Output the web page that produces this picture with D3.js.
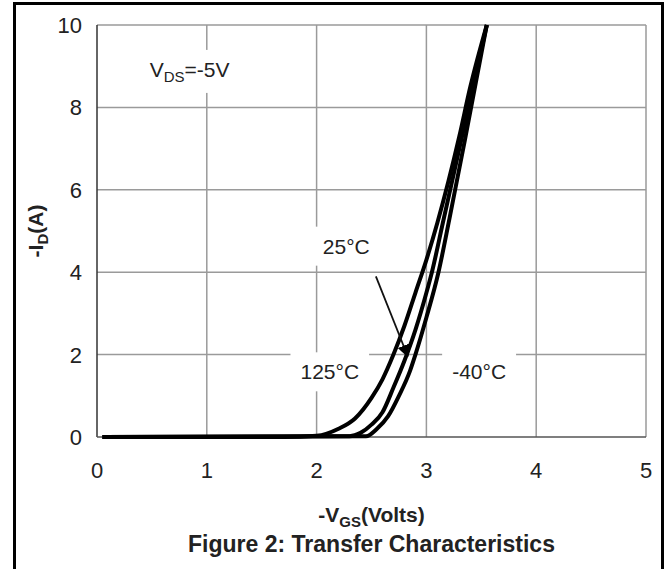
<!DOCTYPE html>
<html>
<head>
<meta charset="utf-8">
<script src="https://cdn.jsdelivr.net/npm/d3@7/dist/d3.min.js"></script>
<style>
  body { margin: 0; background: #fff; }
  svg text { font-family: "Liberation Sans", Arial, sans-serif; fill: #222; }
</style>
</head>
<body>
<div id="chart"></div>
<script>
// -VGS (V) / -ID (A) readings per temperature
const vgs125 = [0.05, 1.7, 2.0, 2.2, 2.35, 2.5, 2.6, 2.7, 2.8, 2.9, 3.0, 3.1, 3.2, 3.3, 3.4, 3.55];
const id125  = [0, 0, 0.03, 0.2, 0.45, 0.95, 1.4, 2.0, 2.7, 3.5, 4.3, 5.2, 6.2, 7.3, 8.5, 10];
const vgs25  = [0.05, 2.3, 2.4, 2.5, 2.6, 2.7, 2.8, 2.9, 3.0, 3.05, 3.15, 3.3, 3.45, 3.55];
const id25   = [0, 0.02, 0.1, 0.3, 0.6, 1.2, 1.85, 2.6, 3.5, 4.0, 5.2, 7.0, 8.8, 10];
const vgsM40 = [0.05, 2.45, 2.55, 2.65, 2.75, 2.85, 2.9, 3.0, 3.11, 3.21, 3.35, 3.45, 3.55];
const idM40  = [0, 0.02, 0.2, 0.5, 1.0, 1.6, 2.0, 2.9, 4.0, 5.3, 7.2, 8.6, 10];

const xTicks = [0, 1, 2, 3, 4, 5];
const yTicks = [0, 2, 4, 6, 8, 10];

// curve labels: text, x (V), y (A)
const curveLabels = [
    {text: "25°C", x: 2.27, y: 4.45},
    {text: "125°C", x: 2.12, y: 1.4},
    {text: "-40°C", x: 3.48, y: 1.4}
];

const W = 670, H = 569;
const margin = {top: 25, right: 24, bottom: 132, left: 97};
const w = W - margin.left - margin.right;
const h = H - margin.top - margin.bottom;

const svg = d3.select("#chart").append("svg")
    .attr("width", W)
    .attr("height", H);

// outer frame
svg.append("rect")
    .attr("x", 14.5).attr("y", 3.5)
    .attr("width", 648).attr("height", 580)
    .attr("fill", "none")
    .attr("stroke", "#000")
    .attr("stroke-width", 3);

const g = svg.append("g")
    .attr("transform", `translate(${margin.left},${margin.top})`);

const x = d3.scaleLinear().domain([0, 5]).range([0, w]);
const y = d3.scaleLinear().domain([0, 10]).range([h, 0]);

// grid
g.append("g").selectAll("line")
    .data(xTicks.slice(1))
    .enter().append("line")
    .attr("x1", d => x(d)).attr("x2", d => x(d))
    .attr("y1", 0).attr("y2", h)
    .attr("stroke", "#9a9a9a").attr("stroke-width", 1.5);
g.append("g").selectAll("line")
    .data(yTicks.slice(1))
    .enter().append("line")
    .attr("x1", 0).attr("x2", w)
    .attr("y1", d => y(d)).attr("y2", d => y(d))
    .attr("stroke", "#9a9a9a").attr("stroke-width", 1.5);

// axes lines
g.append("line")
    .attr("x1", 0).attr("x2", 0).attr("y1", 0).attr("y2", h)
    .attr("stroke", "#333").attr("stroke-width", 1.5);
g.append("line")
    .attr("x1", 0).attr("x2", w).attr("y1", h).attr("y2", h)
    .attr("stroke", "#555").attr("stroke-width", 1.5);

// tick labels
g.append("g").selectAll("text")
    .data(xTicks)
    .enter().append("text")
    .attr("x", d => x(d))
    .attr("y", h + 41)
    .attr("text-anchor", "middle")
    .attr("font-size", 22)
    .text(d => d);
g.append("g").selectAll("text")
    .data(yTicks)
    .enter().append("text")
    .attr("x", -15)
    .attr("y", d => y(d))
    .attr("dy", "0.36em")
    .attr("text-anchor", "end")
    .attr("font-size", 22)
    .text(d => d);

// white boxes behind annotation text
const labelG = g.append("g");
curveLabels.forEach(l => {
    const t = labelG.append("text")
        .attr("x", x(l.x)).attr("y", y(l.y))
        .attr("text-anchor", "middle")
        .attr("font-size", 21)
        .text(l.text);
    const b = t.node().getBBox();
    labelG.insert("rect", "text")
        .attr("x", b.x - 10).attr("y", b.y - 8)
        .attr("width", b.width + 20).attr("height", b.height + 16)
        .attr("fill", "#fff");
});

// V_DS label
const vds = labelG.append("text")
    .attr("x", x(0.48)).attr("y", y(8.74))
    .attr("font-size", 21);
vds.append("tspan").text("V");
vds.append("tspan").attr("font-size", 15).attr("dy", 5).text("DS");
vds.append("tspan").attr("dy", -5).text("=-5V");
const vb = vds.node().getBBox();
labelG.insert("rect", "text")
    .attr("x", vb.x - 10).attr("y", vb.y - 8)
    .attr("width", vb.width + 20).attr("height", vb.height + 16)
    .attr("fill", "#fff");

// curves
const line = d3.line()
    .x(d => x(d[0]))
    .y(d => y(d[1]))
    .curve(d3.curveMonotoneX);

[[vgs125, id125], [vgs25, id25], [vgsM40, idM40]].forEach(([vx, vy]) => {
    g.append("path")
        .datum(d3.zip(vx, vy))
        .attr("d", line)
        .attr("fill", "none")
        .attr("stroke", "#000")
        .attr("stroke-width", 4)
        .attr("stroke-linejoin", "round");
});

// arrow from 25°C label to its curve
const arrowFrom = [2.54, 3.9], arrowTo = [2.83, 1.96];
svg.append("defs").append("marker")
    .attr("id", "head")
    .attr("viewBox", "0 0 10 10")
    .attr("refX", 9).attr("refY", 5)
    .attr("markerWidth", 7).attr("markerHeight", 7)
    .attr("markerUnits", "strokeWidth")
    .attr("orient", "auto")
    .append("path")
    .attr("d", "M0,0 L10,5 L0,10 Z")
    .attr("fill", "#000");
g.append("line")
    .attr("x1", x(arrowFrom[0])).attr("y1", y(arrowFrom[1]))
    .attr("x2", x(arrowTo[0])).attr("y2", y(arrowTo[1]))
    .attr("stroke", "#111").attr("stroke-width", 1.8)
    .attr("marker-end", "url(#head)");

// axis titles
const xt = svg.append("text")
    .attr("x", margin.left + w / 2).attr("y", 522)
    .attr("text-anchor", "middle")
    .attr("font-size", 21).attr("font-weight", "bold");
xt.append("tspan").text("-V");
xt.append("tspan").attr("font-size", 15).attr("dy", 5).text("GS");
xt.append("tspan").attr("dy", -5).text("(Volts)");

const yt = svg.append("text")
    .attr("transform", `translate(43,${margin.top + h / 2}) rotate(-90)`)
    .attr("text-anchor", "middle")
    .attr("font-size", 21).attr("font-weight", "bold");
yt.append("tspan").text("-I");
yt.append("tspan").attr("font-size", 15).attr("dy", 5).text("D");
yt.append("tspan").attr("dy", -5).text("(A)");

svg.append("text")
    .attr("x", margin.left + w / 2).attr("y", 552)
    .attr("text-anchor", "middle")
    .attr("font-size", 23).attr("font-weight", "bold")
    .text("Figure 2: Transfer Characteristics");
</script>
</body>
</html>
